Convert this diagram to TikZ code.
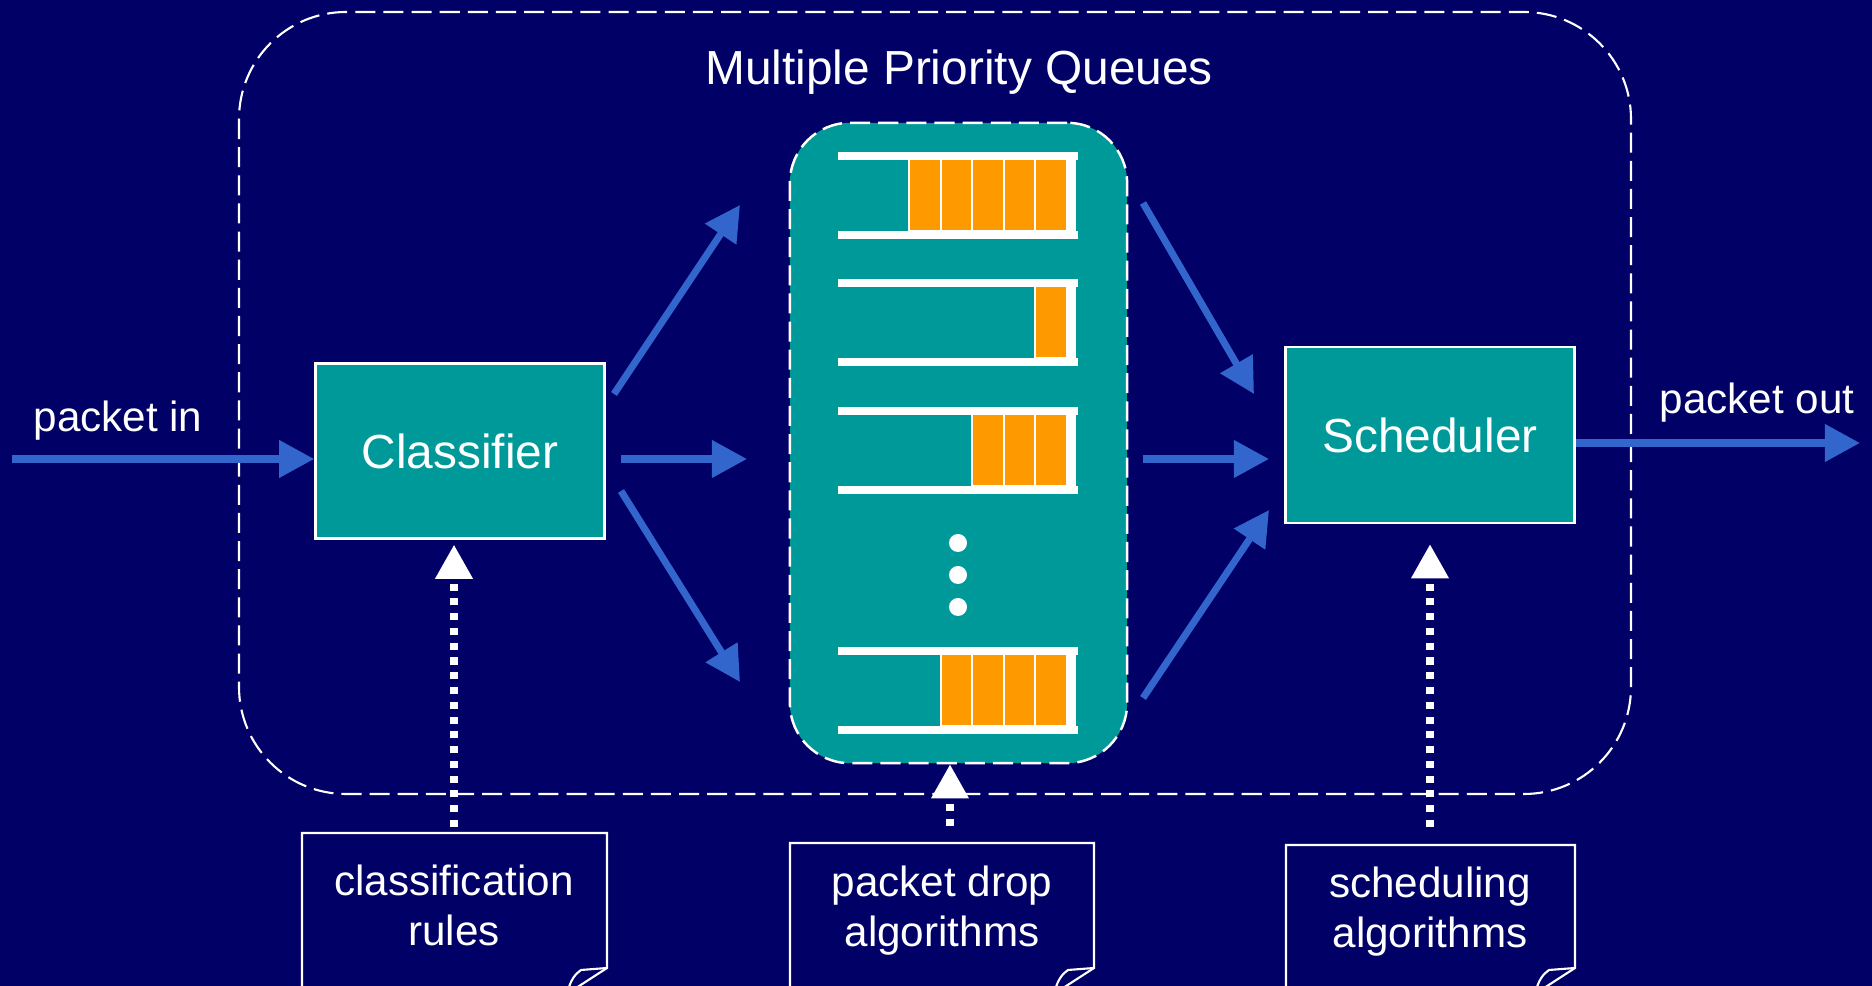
\documentclass[tikz,border=0pt]{standalone}
\usepackage{fontspec}
\setmainfont{Liberation Sans}
\usetikzlibrary{arrows.meta}
\definecolor{navy}{RGB}{0,0,102}
\definecolor{boxteal}{RGB}{0,153,153}
\definecolor{pktorange}{RGB}{255,153,0}
\definecolor{flowblue}{RGB}{51,102,204}
% note sheet: left x, right x, top y (open at the bottom, curled corner)
\newcommand{\notesheet}[3]{%
  \draw[white, line width=0.6pt] (#1,995) -- (#1,#3) -- (#2,#3) -- (#2,968) -- ({#2-34},990);
  \draw[white, line width=0.6pt] (#2,968) -- ({#2-26},970)
    .. controls ({#2-32},974) and ({#2-36},980) .. ({#2-39},990);
}
\begin{document}
\begin{tikzpicture}[x=0.01cm, y=-0.01cm,
    flow/.style={flowblue, line width=2pt, -{Triangle[length=0.35cm, width=0.36cm]}},
    ctrl/.style={white, line width=2pt, dash pattern=on 2pt off 2.2pt, -{Triangle[length=0.34cm, width=0.36cm]}},
    region/.style={white, line width=0.6pt, dash pattern=on 5.7pt off 2.3pt},
    box/.style={draw=white, fill=boxteal, line width=0.7pt, text=white, font=\fontsize{13.6}{16}\selectfont},
    lbl/.style={text=white, font=\fontsize{12}{14.2}\selectfont, align=center}]
    \useasboundingbox (0,0) rectangle (1872,986);
    \fill[navy] (0,0) rectangle (1872,986);
    \clip (0,0) rectangle (1872,986);
    %\draw[gray] (0,0) grid[step=1cm] (1872,986);
    % outer region
    \draw[region, rounded corners=1.07cm] (239,12) rectangle (1631,794);
    \node[text=white, font=\fontsize{13.6}{16}\selectfont] (title) at (959,72) {Multiple Priority Queues};
    % queues
    \node[region, draw=white, fill=boxteal, line width=0.7pt, rounded corners=0.6cm,
          minimum width=3.37cm, minimum height=6.4cm] (qbox) at (958.5,443) {};
    \foreach \qy/\n in {152/5, 279/1, 407/3, 647/4} {
        \foreach \c in {1,...,\n}
            \filldraw[fill=pktorange, draw=white, line width=0.6pt] ({1067-\c*31.6},{\qy+7}) rectangle ({1067-(\c-1)*31.6},{\qy+79});
        \fill[white] (838,\qy) rectangle (1078,{\qy+8});
        \fill[white] (838,{\qy+79}) rectangle (1078,{\qy+87});
        \fill[white] (1067,\qy) rectangle (1076,{\qy+87});
    }
    \foreach \dy in {543,575,607}
        \fill[white] (958,\dy) circle (0.09cm);
    % boxes
    \node[box, minimum width=2.89cm, minimum height=1.75cm] (cls) at (460,451) {Classifier};
    \node[box, minimum width=2.89cm, minimum height=1.76cm] (sch) at (1430,435) {Scheduler};
    % in and out
    \coordinate (pin) at (12,459);
    \coordinate (pout) at (1860,443);
    \node[lbl] (inlbl) at (118,421) {packet in};
    \node[lbl] (outlbl) at (1757,403) {packet out};
    \draw[flow] (pin) -- (pin -| cls.west);
    \draw[flow] (pout -| sch.east) -- (pout);
    % classifier to queues
    \coordinate (c1) at (614,394);  \coordinate (q1) at (740,205);
    \coordinate (c2) at (621,459);  \coordinate (q2) at (747,459);
    \coordinate (c3) at (621,491);  \coordinate (q3) at (740,682);
    \draw[flow] (c1) -- (q1);
    \draw[flow] (c2) -- (q2);
    \draw[flow] (c3) -- (q3);
    % queues to scheduler
    \coordinate (r1) at (1143,203); \coordinate (s1) at (1254,394);
    \coordinate (r2) at (1143,459); \coordinate (s2) at (1269,459);
    \coordinate (r3) at (1143,698); \coordinate (s3) at (1269,510);
    \draw[flow] (r1) -- (s1);
    \draw[flow] (r2) -- (s2);
    \draw[flow] (r3) -- (s3);
    % notes
    \notesheet{302}{607}{833}
    \notesheet{790}{1094}{843}
    \notesheet{1286}{1575}{845}
    \node[lbl] (rules) at (454,905) {classification\\rules};
    \node[lbl] (drop) at (942,911) {packet drop\\algorithms};
    \node[lbl] (sched) at (1430,912) {scheduling\\algorithms};
    \coordinate (rulestop) at (454,827);
    \coordinate (droptop) at (950,826);
    \coordinate (schedtop) at (1430,827);
    \draw[ctrl] (rulestop) -- ([yshift=-0.05cm]rulestop |- cls.south);
    \draw[ctrl] (droptop) -- (droptop |- qbox.south);
    \draw[ctrl] (schedtop) -- ([yshift=-0.2cm]schedtop |- sch.south);
\end{tikzpicture}
\end{document}
